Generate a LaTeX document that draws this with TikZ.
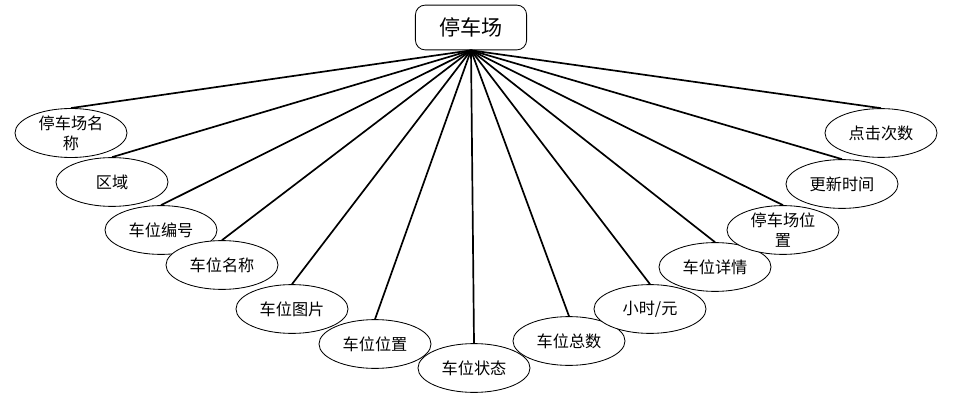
\documentclass[tikz,border=0pt]{standalone}
\usepackage{fontspec}
\setmainfont{Noto Sans CJK SC}
\usepackage{tikz}
\usetikzlibrary{shapes,positioning}

\begin{document}
\begin{tikzpicture}[
    x=0.025cm, y=-0.025cm,
    entity/.style={draw, rectangle, rounded corners=7pt, fill=white, minimum width=2.78cm, minimum height=1.12cm, font=\fontsize{15}{18}\selectfont, line width=0.6pt},
    attr/.style={draw, ellipse, fill=white, inner sep=0pt, minimum width=2.8cm, minimum height=1.22cm, align=center, font=\fontsize{11.5}{14}\selectfont, line width=0.6pt},
    link/.style={line width=1.2pt}
]
\useasboundingbox (0,0) rectangle (970,412);

\node[entity] (park) at (471,27.5) {停车场};

\node[attr] (name) at (71,133) {停车场名\\称};
\node[attr] (area) at (112,182) {区域};
\node[attr] (code) at (161,230) {车位编号};
\node[attr] (sname) at (222,265) {车位名称};
\node[attr] (pic) at (292,309) {车位图片};
\node[attr] (spos) at (375,344) {车位位置};
\node[attr] (state) at (474,368) {车位状态};
\node[attr] (total) at (569,341) {车位总数};
\node[attr] (price) at (650,309) {小时/元};
\node[attr] (detail) at (715,267) {车位详情};
\node[attr] (ppos) at (783,230) {停车场位\\置};
\node[attr] (upd) at (842,184) {更新时间};
\node[attr] (hits) at (881,133) {点击次数};

\draw[link] (park.south) -- (name.north);
\draw[link] (park.south) -- (area.north);
\draw[link] (park.south) -- (code.north);
\draw[link] (park.south) -- (sname.north);
\draw[link] (park.south) -- (pic.north);
\draw[link] (park.south) -- (spos.north);
\draw[link] (park.south) -- (state.north);
\draw[link] (park.south) -- (total.north);
\draw[link] (park.south) -- (price.north);
\draw[link] (park.south) -- (detail.north);
\draw[link] (park.south) -- (ppos.north);
\draw[link] (park.south) -- (upd.north);
\draw[link] (park.south) -- (hits.north);

\end{tikzpicture}
\end{document}
